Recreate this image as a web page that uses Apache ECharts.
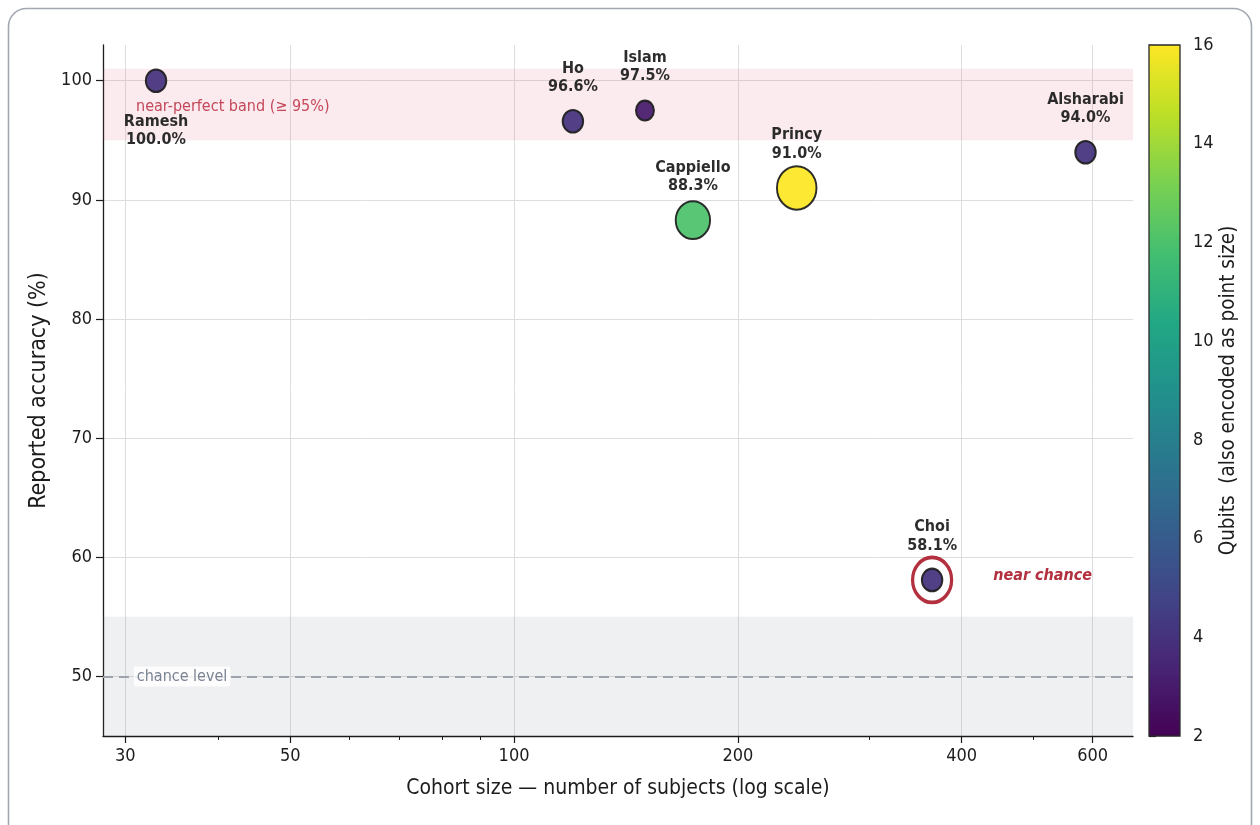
<!DOCTYPE html>
<html>
<head>
<meta charset="utf-8">
<style>
  html, body { margin: 0; padding: 0; background: #ffffff; }
  #chart { width: 1260px; height: 825px; }
</style>
<script src="https://cdn.jsdelivr.net/npm/echarts@6/dist/echarts.min.js"></script>
</head>
<body>
<div id="chart"></div>
<script>
// Reported accuracy of quantum-ML studies against cohort size; colour and size show qubit count.
const studies    = ['Ramesh', 'Ho', 'Islam', 'Cappiello', 'Princy', 'Choi', 'Alsharabi'];
const cohortSize = [33, 120, 150, 174, 240, 365, 587];
const accuracy   = [100.0, 96.6, 97.5, 88.3, 91.0, 58.1, 94.0];
const qubits     = [4, 4, 3, 12, 16, 4, 4];

const xTicks      = [30, 50, 100, 200, 400, 600];
const xMinorTicks = [40, 60, 70, 80, 90, 300, 500];
const yTicks      = [50, 60, 70, 80, 90, 100];

const nearPerfectBand = [95, 101];
const chanceBand      = [45, 55];
const chanceLevel     = 50;
const flaggedStudy    = 'Choi';
const labelsBelow     = ['Ramesh'];

const viridis = ['#440154', '#482475', '#414487', '#355f8d', '#2a788e', '#21918c',
                 '#22a884', '#44bf70', '#7ad151', '#bddf26', '#fde725'];

const FONT = '"DejaVu Sans Condensed", "DejaVu Sans", sans-serif';
const INK = '#1c1c1c';
const ALERT = '#b3303f';

// marker footprint grows with qubit count
function markerSize(q) {
  const w = Math.sqrt(40 + 95 * q);
  return [w, w * 1.1];
}

const points = studies.map((name, i) => {
  const item = { name: name, value: [cohortSize[i], accuracy[i], qubits[i]] };
  if (labelsBelow.includes(name)) item.label = { offset: [0, 50] };
  return item;
});

const flagIdx = studies.indexOf(flaggedStudy);

const chart = echarts.init(document.getElementById('chart'), null, { renderer: 'canvas' });

const colorbarGradient = new echarts.graphic.LinearGradient(0, 1, 0, 0,
  viridis.map((c, i) => ({ offset: i / (viridis.length - 1), color: c })));

chart.setOption({
  animation: false,
  backgroundColor: '#ffffff',
  textStyle: { fontFamily: FONT, color: INK },
  graphic: [{
    type: 'rect', silent: true, z: -10,
    shape: { x: 8.5, y: 8.5, width: 1243, height: 850, r: 18 },
    style: { fill: 'none', stroke: '#a3a8b0', lineWidth: 1.6 }
  }],
  grid: [
    { left: 103, right: 127, top: 45, bottom: 89, containLabel: false },
    { left: 1149, width: 31, top: 45, bottom: 89, containLabel: false }
  ],
  visualMap: {
    type: 'continuous', show: false, min: 2, max: 16, dimension: 2, seriesIndex: 1,
    inRange: { color: viridis }
  },
  xAxis: [
    {
      type: 'log', logBase: 10, min: 28, max: 680, gridIndex: 0, position: 'bottom',
      name: 'Cohort size \u2014 number of subjects (log scale)',
      nameLocation: 'middle', nameGap: 42,
      nameTextStyle: { fontSize: 21, color: INK, fontFamily: FONT },
      axisLine: { show: true, lineStyle: { color: INK, width: 1.3 } },
      axisTick: { show: true, customValues: xTicks, length: 7, lineStyle: { color: INK, width: 1.2 } },
      axisLabel: { customValues: xTicks, fontSize: 18, color: INK, margin: 11, fontFamily: FONT },
      splitLine: { show: true, lineStyle: { color: '#dedede', width: 1 } }
    },
    {
      type: 'log', logBase: 10, min: 28, max: 680, gridIndex: 0, position: 'bottom',
      axisLine: { show: false },
      axisTick: { show: true, customValues: xMinorTicks, length: 4, lineStyle: { color: INK, width: 1 } },
      axisLabel: { show: false },
      splitLine: { show: false }
    },
    {
      type: 'value', min: 0, max: 1, gridIndex: 1, show: false
    }
  ],
  yAxis: [
    {
      type: 'value', min: 45, max: 103, gridIndex: 0,
      name: 'Reported accuracy (%)', nameLocation: 'middle', nameGap: 48, nameRotate: 90,
      nameTextStyle: { fontSize: 23, color: INK, fontFamily: FONT },
      axisLine: { show: true, lineStyle: { color: INK, width: 1.3 } },
      axisTick: { show: true, customValues: yTicks, length: 7, lineStyle: { color: INK, width: 1.2 } },
      axisLabel: { customValues: yTicks, fontSize: 18, color: INK, margin: 11, fontFamily: FONT },
      splitLine: { show: true, lineStyle: { color: '#dedede', width: 1 } }
    },
    {
      type: 'value', min: 2, max: 16, interval: 2, gridIndex: 1, position: 'right',
      name: 'Qubits  (also encoded as point size)', nameLocation: 'middle', nameGap: 38, nameRotate: 90,
      nameTextStyle: { fontSize: 20.5, color: INK, fontFamily: FONT },
      axisLine: { show: false },
      axisTick: { show: true, length: 7, lineStyle: { color: INK, width: 1.2 } },
      axisLabel: { fontSize: 18, color: INK, margin: 13, fontFamily: FONT },
      splitLine: { show: false }
    }
  ],
  series: [
    {
      // shaded reference bands, chance line and their captions
      type: 'scatter', xAxisIndex: 0, yAxisIndex: 0, data: [], z: 1, silent: true,
      markArea: {
        silent: true,
        data: [
          [{ yAxis: nearPerfectBand[0], itemStyle: { color: 'rgba(220,60,90,0.10)' },
             label: { show: true, formatter: 'near-perfect band (\u2265 95%)', position: 'insideLeft',
                      distance: 0, offset: [33, 2], color: '#c4485a', fontSize: 16, fontFamily: FONT } },
           { yAxis: nearPerfectBand[1] }],
          [{ yAxis: chanceBand[0], itemStyle: { color: 'rgba(110,120,140,0.11)' }, label: { show: false } },
           { yAxis: chanceBand[1] }]
        ]
      },
      markLine: {
        silent: true, symbol: 'none',
        lineStyle: { color: '#9ea3ad', width: 2, type: [10, 6] },
        label: { show: false },
        data: [{ yAxis: chanceLevel }]
      },
      markPoint: {
        silent: true, symbol: 'rect', symbolSize: 0,
        data: [{
          coord: [30.8, chanceLevel],
          label: {
            show: true, formatter: 'chance level', position: 'right', distance: 0,
            color: '#7a8393', fontSize: 16, fontFamily: FONT,
            backgroundColor: 'rgba(255,255,255,0.85)', padding: [2, 3], borderRadius: 2
          }
        }]
      }
    },
    {
      // studies
      type: 'scatter', xAxisIndex: 0, yAxisIndex: 0, z: 5,
      data: points,
      symbolSize: (val) => markerSize(val[2]),
      itemStyle: { borderColor: '#1e1e1e', borderWidth: 2, opacity: 0.93 },
      label: {
        show: true, position: 'inside', offset: [0, -43.5],
        formatter: (p) => p.name + '\n' + p.value[1].toFixed(1) + '%',
        fontWeight: 'bold', fontSize: 16, lineHeight: 18.5, color: INK, fontFamily: FONT
      },
      emphasis: { disabled: true }
    },
    {
      // highlight ring around the near-chance study
      type: 'scatter', xAxisIndex: 0, yAxisIndex: 0, z: 4, silent: true,
      data: [{ name: flaggedStudy, value: [cohortSize[flagIdx], accuracy[flagIdx]] }],
      symbolSize: [39, 45],
      itemStyle: { color: 'rgba(255,255,255,0)', borderColor: ALERT, borderWidth: 3.5, opacity: 1 },
      label: {
        show: true, formatter: 'near chance', position: 'right', distance: 40, offset: [0, -4],
        fontStyle: 'italic', fontWeight: 'bold', fontSize: 16, color: ALERT, fontFamily: FONT
      },
      emphasis: { disabled: true }
    },
    {
      // colour bar
      type: 'custom', xAxisIndex: 2, yAxisIndex: 1, silent: true,
      data: [[0, 2, 1, 16]],
      renderItem: (params, api) => {
        const p0 = api.coord([api.value(0), api.value(3)]);
        const p1 = api.coord([api.value(2), api.value(1)]);
        return {
          type: 'rect',
          shape: { x: p0[0], y: p0[1], width: p1[0] - p0[0], height: p1[1] - p0[1] },
          style: { fill: colorbarGradient, stroke: '#2a2a2a', lineWidth: 1.3 }
        };
      }
    }
  ]
});
</script>
</body>
</html>
